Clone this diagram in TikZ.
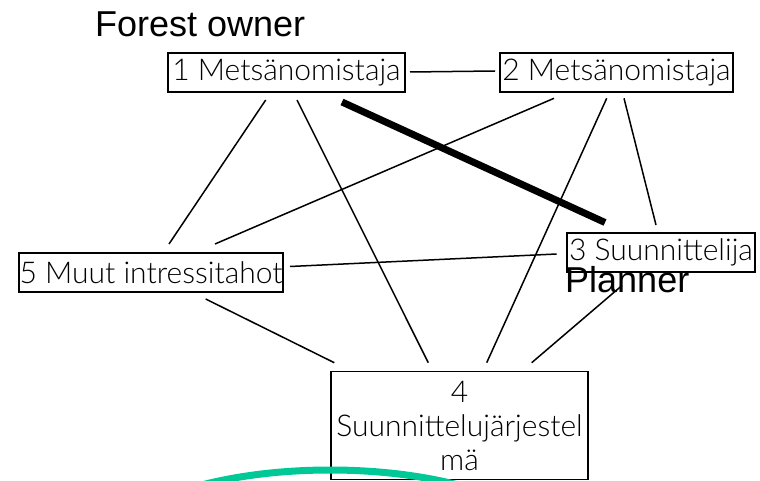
\documentclass[tikz,border=0pt]{standalone}
\usepackage{fontspec}
\setmainfont{Liberation Sans}
\newfontfamily\thinfont{Lato Light}
\usetikzlibrary{calc}
\definecolor{arcgreen}{RGB}{0,200,150}
\begin{document}
\begin{tikzpicture}[x=1pt,y=-1pt,
  stakebox/.style={draw,line width=1.3pt,fill=white,inner sep=0pt,
    font=\thinfont\fontsize{30}{34}\selectfont,minimum height=39pt},
  tie/.style={line width=1.5pt},
  strongtie/.style={line width=7pt},
  heading/.style={inner sep=0pt,anchor=base west,font=\fontsize{36}{40}\selectfont}]
\useasboundingbox (0,0) rectangle (760,481);

% stakeholder boxes
\node[stakebox,minimum width=237pt] (m1) at (286.5,72.5) {1 Metsänomistaja};
\node[stakebox,minimum width=233pt] (m2) at (616.5,72.5) {2 Metsänomistaja};
\node[stakebox,minimum width=188pt] (s3) at (661,252.5) {3 Suunnittelija};
\node[stakebox,minimum width=264pt] (o5) at (151,272.5) {5 Muut intressitahot};
\node[stakebox,minimum width=257pt,minimum height=107.5pt,align=center] (p4) at (459.5,425.5)
  {4\\Suunnittelujärjestel\\mä};

% English captions
\node[heading] (fo) at (95,37) {Forest owner};
\node[heading] (pl) at (565,292.5) {Planner};

% end points of the links
\coordinate (a12) at (410,72);   \coordinate (b12) at (495,71);
\coordinate (a15) at (265.7,100); \coordinate (b15) at (169,244);
\coordinate (a14) at (297,100);   \coordinate (b14) at (428.3,362.7);
\coordinate (a13) at (342,102);   \coordinate (b13) at (605,222.5);
\coordinate (a25) at (554,98.3);  \coordinate (b25) at (215,244);
\coordinate (a24) at (606.7,98.3); \coordinate (b24) at (486.7,362.7);
\coordinate (a23) at (624,98.3);  \coordinate (b23) at (656,225);
\coordinate (a53) at (290,266.5); \coordinate (b53) at (556.7,254);
\coordinate (a54) at (205.7,299); \coordinate (b54) at (334.3,362.7);
\coordinate (a34) at (622,285.5); \coordinate (b34) at (531.7,362.7);

% links between the stakeholders
\draw[tie] (a12) -- (b12);
\draw[tie] (a15) -- (b15);
\draw[tie] (a14) -- (b14);
\draw[tie] (a25) -- (b25);
\draw[tie] (a24) -- (b24);
\draw[tie] (a23) -- (b23);
\draw[tie] (a53) -- (b53);
\draw[tie] (a54) -- (b54);
\draw[tie] (a34) -- (b34);
\draw[strongtie] (a13) -- (b13);

% green arc at the bottom edge: top of a wide ellipse, cut by the page
\begin{scope}
  \clip (0,0) rectangle (760,481);
  \coordinate (gc) at (330,560);
  \draw[arcgreen,line width=7pt] (gc) ellipse [x radius=232pt,y radius=90pt];
\end{scope}
\end{tikzpicture}
\end{document}
